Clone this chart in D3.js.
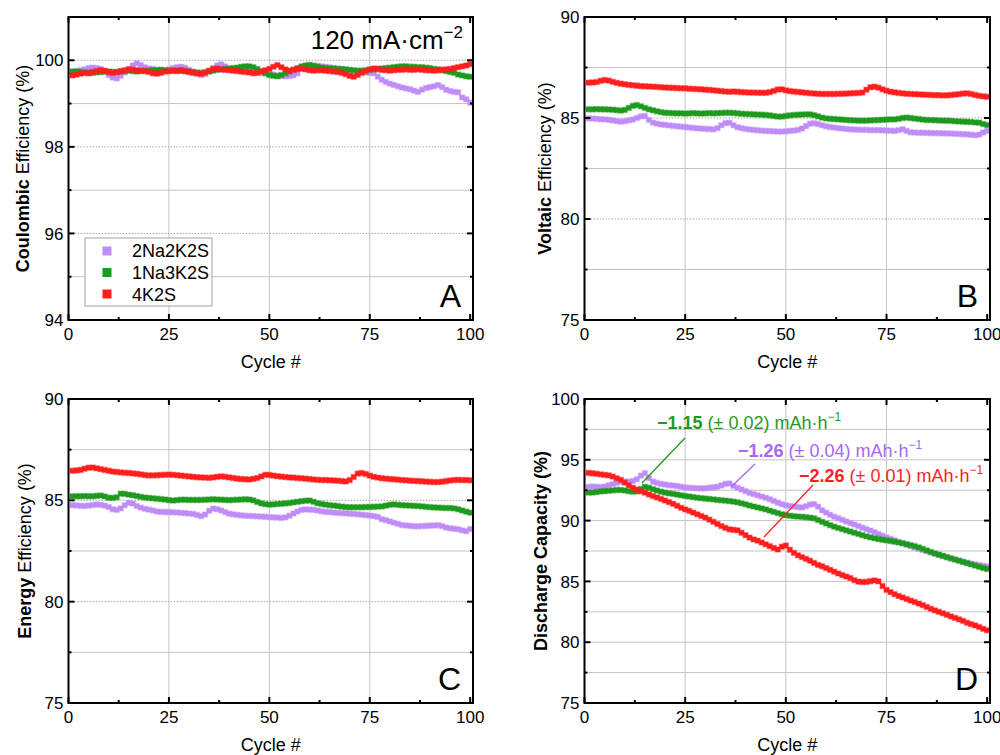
<!DOCTYPE html>
<html>
<head>
<meta charset="UTF-8" />
<script src="https://d3js.org/d3.v7.min.js"></script>
<style>
  body { margin: 0; background: #fff; }
  text { font-family: "Liberation Sans", Arial, sans-serif; }
</style>
</head>
<body>
<svg id="svg"></svg>
<script>
// cycle numbers
var cycles = d3.range(1, 101);

var seriesNames = ["2Na2K2S", "1Na3K2S", "4K2S"];
var seriesColors = ["#c08cf8", "#1e9a1e", "#ff1e1e"];
var textColors = ["#a966f2", "#1e9a1e", "#ff1e1e"];

// Coulombic efficiency (%)
var ce_2Na2K2S = [99.74,99.75,99.77,99.79,99.82,99.83,99.82,99.80,99.74,99.66,99.60,99.58,99.64,99.72,99.80,99.88,99.93,99.89,99.84,99.81,
  99.80,99.78,99.77,99.77,99.79,99.82,99.84,99.85,99.83,99.78,99.73,99.69,99.66,99.68,99.74,99.82,99.88,99.91,99.86,99.81,
  99.79,99.77,99.76,99.75,99.74,99.73,99.72,99.71,99.70,99.68,99.67,99.65,99.64,99.63,99.64,99.65,99.70,99.80,99.87,99.89,
  99.88,99.87,99.86,99.85,99.84,99.82,99.80,99.79,99.77,99.76,99.75,99.73,99.73,99.72,99.71,99.70,99.62,99.55,99.50,99.46,
  99.43,99.40,99.37,99.35,99.33,99.30,99.27,99.32,99.36,99.38,99.40,99.43,99.38,99.32,99.29,99.27,99.26,99.14,99.10,99.02];
var ce_1Na3K2S = [99.74,99.74,99.73,99.72,99.71,99.71,99.72,99.73,99.74,99.74,99.73,99.73,99.74,99.75,99.76,99.75,99.74,99.75,99.76,99.76,
  99.77,99.77,99.78,99.77,99.76,99.76,99.75,99.76,99.75,99.74,99.73,99.72,99.71,99.72,99.74,99.76,99.78,99.79,99.80,99.81,
  99.82,99.83,99.85,99.86,99.86,99.84,99.80,99.75,99.70,99.66,99.64,99.63,99.66,99.70,99.74,99.78,99.82,99.86,99.88,99.89,
  99.87,99.85,99.83,99.82,99.81,99.81,99.80,99.80,99.79,99.78,99.77,99.76,99.76,99.77,99.78,99.79,99.80,99.81,99.82,99.83,
  99.84,99.85,99.86,99.86,99.85,99.85,99.84,99.84,99.83,99.82,99.80,99.79,99.77,99.75,99.73,99.71,99.67,99.65,99.63,99.62];
var ce_4K2S = [99.65,99.67,99.69,99.71,99.70,99.73,99.75,99.77,99.76,99.73,99.71,99.72,99.75,99.77,99.79,99.78,99.77,99.76,99.75,99.73,
  99.70,99.69,99.71,99.74,99.75,99.76,99.76,99.77,99.75,99.73,99.71,99.70,99.69,99.72,99.76,99.80,99.81,99.79,99.78,99.77,
  99.76,99.75,99.74,99.73,99.72,99.70,99.71,99.74,99.77,99.80,99.85,99.89,99.84,99.79,99.76,99.78,99.80,99.81,99.79,99.77,
  99.76,99.77,99.77,99.76,99.75,99.74,99.73,99.71,99.68,99.64,99.62,99.66,99.71,99.75,99.79,99.81,99.80,99.78,99.77,99.76,
  99.77,99.78,99.78,99.79,99.78,99.78,99.79,99.78,99.77,99.77,99.76,99.77,99.78,99.79,99.80,99.82,99.84,99.86,99.88,99.91];

// Voltaic efficiency (%)
var ve_2Na2K2S = [84.98,84.97,84.96,84.94,84.93,84.91,84.88,84.85,84.82,84.84,84.88,84.92,85.00,85.08,85.10,84.90,84.77,84.72,84.68,84.66,
  84.63,84.61,84.59,84.57,84.55,84.53,84.51,84.49,84.48,84.46,84.45,84.44,84.50,84.64,84.75,84.76,84.64,84.54,84.50,84.46,
  84.43,84.41,84.39,84.37,84.36,84.35,84.34,84.33,84.33,84.34,84.36,84.38,84.41,84.48,84.60,84.72,84.74,84.70,84.64,84.59,
  84.55,84.53,84.50,84.48,84.46,84.44,84.43,84.42,84.41,84.41,84.40,84.40,84.40,84.39,84.38,84.37,84.36,84.40,84.44,84.36,
  84.29,84.28,84.27,84.27,84.26,84.26,84.25,84.25,84.24,84.24,84.23,84.22,84.21,84.20,84.19,84.17,84.15,84.18,84.28,84.36];
var ve_1Na3K2S = [85.43,85.43,85.44,85.43,85.43,85.42,85.41,85.39,85.37,85.40,85.50,85.60,85.64,85.58,85.50,85.43,85.38,85.33,85.29,85.26,
  85.25,85.24,85.23,85.23,85.22,85.23,85.24,85.23,85.22,85.23,85.24,85.23,85.24,85.25,85.26,85.26,85.25,85.23,85.21,85.20,
  85.19,85.18,85.17,85.16,85.15,85.13,85.10,85.07,85.07,85.10,85.13,85.15,85.16,85.17,85.18,85.18,85.14,85.08,85.02,84.98,
  84.96,84.95,84.93,84.92,84.90,84.89,84.88,84.87,84.87,84.87,84.88,84.89,84.90,84.91,84.92,84.93,84.93,84.96,85.00,85.02,
  85.00,84.97,84.95,84.92,84.90,84.90,84.89,84.88,84.87,84.87,84.86,84.84,84.83,84.82,84.81,84.80,84.78,84.77,84.70,84.65];
var ve_4K2S = [86.75,86.76,86.78,86.84,86.88,86.85,86.79,86.74,86.70,86.67,86.64,86.62,86.60,86.58,86.57,86.56,86.55,86.54,86.52,86.51,
  86.50,86.49,86.48,86.47,86.47,86.45,86.44,86.43,86.42,86.40,86.39,86.37,86.35,86.33,86.31,86.30,86.31,86.30,86.28,86.27,
  86.26,86.26,86.25,86.25,86.25,86.28,86.34,86.41,86.42,86.37,86.33,86.31,86.29,86.27,86.25,86.23,86.21,86.20,86.19,86.19,
  86.19,86.19,86.20,86.20,86.21,86.22,86.23,86.24,86.26,86.40,86.52,86.55,86.50,86.42,86.35,86.30,86.27,86.24,86.22,86.20,
  86.19,86.18,86.17,86.16,86.15,86.14,86.13,86.13,86.12,86.12,86.14,86.16,86.18,86.21,86.22,86.19,86.14,86.10,86.07,86.05];

// Energy efficiency (%)
var ee_2Na2K2S = [84.76,84.75,84.73,84.72,84.74,84.77,84.79,84.78,84.74,84.67,84.56,84.53,84.60,84.76,84.88,84.84,84.72,84.64,84.58,84.54,
  84.50,84.45,84.43,84.42,84.42,84.41,84.40,84.38,84.37,84.35,84.33,84.28,84.22,84.30,84.48,84.59,84.56,84.50,84.42,84.34,
  84.31,84.28,84.26,84.24,84.23,84.22,84.21,84.20,84.19,84.17,84.16,84.15,84.13,84.16,84.24,84.35,84.45,84.53,84.55,84.54,
  84.53,84.50,84.46,84.43,84.42,84.40,84.38,84.37,84.36,84.34,84.33,84.31,84.29,84.27,84.25,84.22,84.18,84.07,84.02,83.96,
  83.90,83.84,83.78,83.76,83.74,83.72,83.72,83.73,83.74,83.75,83.76,83.77,83.73,83.66,83.62,83.60,83.57,83.52,83.48,83.58];
var ee_1Na3K2S = [85.20,85.20,85.20,85.21,85.20,85.20,85.22,85.24,85.19,85.13,85.12,85.15,85.33,85.32,85.28,85.25,85.21,85.17,85.14,85.12,
  85.10,85.08,85.06,85.04,85.01,84.99,85.01,85.03,85.03,85.02,85.02,85.02,85.02,85.03,85.04,85.05,85.04,85.03,85.02,85.01,
  85.02,85.03,85.04,85.05,85.04,85.00,84.92,84.85,84.81,84.79,84.80,84.82,84.83,84.85,84.87,84.90,84.93,84.96,84.98,84.99,
  84.93,84.86,84.82,84.79,84.76,84.74,84.72,84.69,84.67,84.66,84.66,84.66,84.66,84.67,84.67,84.68,84.69,84.70,84.74,84.78,
  84.80,84.78,84.76,84.75,84.74,84.73,84.72,84.70,84.68,84.66,84.65,84.64,84.63,84.62,84.62,84.60,84.56,84.50,84.44,84.39];
var ee_4K2S = [86.46,86.48,86.50,86.56,86.61,86.62,86.58,86.54,86.50,86.46,86.42,86.40,86.38,86.36,86.35,86.33,86.31,86.28,86.25,86.23,
  86.23,86.24,86.25,86.26,86.27,86.26,86.24,86.22,86.20,86.18,86.16,86.14,86.13,86.12,86.11,86.13,86.16,86.18,86.16,86.13,
  86.10,86.07,86.05,86.04,86.03,86.06,86.10,86.18,86.26,86.25,86.22,86.19,86.17,86.15,86.13,86.12,86.10,86.09,86.07,86.05,
  86.03,86.01,86.00,86.00,85.99,85.98,85.97,85.95,85.93,86.00,86.15,86.32,86.35,86.30,86.22,86.16,86.12,86.09,86.07,86.05,
  86.04,86.02,86.00,85.99,85.97,85.96,85.95,85.94,85.92,85.91,85.90,85.90,85.92,85.95,85.98,86.00,86.01,86.00,86.00,85.99];

// Discharge capacity (%)
var dc_2Na2K2S = [92.78,92.80,92.78,92.76,92.80,92.90,93.00,93.10,93.20,93.22,93.20,93.25,93.40,93.70,93.90,93.50,93.20,93.10,93.02,92.96,
  92.92,92.88,92.84,92.78,92.73,92.70,92.68,92.66,92.65,92.66,92.70,92.74,92.78,92.90,93.02,93.06,92.85,92.70,92.56,92.42,
  92.28,92.18,92.08,91.98,91.88,91.76,91.62,91.48,91.35,91.26,91.20,91.15,91.11,91.08,91.18,91.32,91.36,91.15,90.85,90.66,
  90.48,90.32,90.20,90.06,89.92,89.80,89.68,89.55,89.42,89.30,89.18,89.05,88.90,88.75,88.62,88.50,88.38,88.24,88.12,88.02,
  87.90,87.78,87.68,87.58,87.48,87.38,87.28,87.18,87.08,86.98,86.88,86.80,86.72,86.62,86.54,86.46,86.40,86.34,86.28,86.24];
var dc_1Na3K2S = [92.30,92.31,92.35,92.40,92.42,92.45,92.48,92.52,92.52,92.48,92.42,92.38,92.40,92.60,92.78,92.70,92.58,92.48,92.38,92.30,
  92.24,92.20,92.14,92.08,92.02,91.98,91.93,91.88,91.84,91.81,91.78,91.74,91.70,91.67,91.64,91.60,91.56,91.50,91.42,91.34,
  91.24,91.16,91.08,91.00,90.92,90.82,90.72,90.62,90.52,90.45,90.40,90.36,90.33,90.31,90.28,90.24,90.19,90.05,89.90,89.76,
  89.62,89.50,89.40,89.30,89.20,89.10,89.00,88.90,88.80,88.70,88.62,88.55,88.48,88.42,88.38,88.32,88.26,88.20,88.14,88.06,
  87.98,87.90,87.80,87.68,87.55,87.42,87.30,87.20,87.10,87.00,86.90,86.80,86.70,86.60,86.50,86.40,86.30,86.20,86.10,86.02];
var dc_4K2S = [93.92,93.89,93.85,93.80,93.76,93.72,93.62,93.48,93.35,93.12,92.90,92.70,92.55,92.42,92.30,92.15,92.02,91.90,91.78,91.65,
  91.52,91.38,91.22,91.05,90.92,90.80,90.66,90.52,90.38,90.25,90.08,89.90,89.72,89.55,89.40,89.28,89.24,89.20,89.00,88.80,
  88.60,88.45,88.35,88.20,88.05,87.90,87.75,87.62,87.85,87.95,87.60,87.35,87.15,87.00,86.85,86.70,86.52,86.35,86.25,86.10,
  85.95,85.80,85.65,85.52,85.40,85.28,85.10,84.98,84.95,84.96,85.02,85.08,85.00,84.62,84.30,84.12,83.95,83.80,83.68,83.55,
  83.42,83.30,83.18,83.05,82.90,82.75,82.62,82.50,82.38,82.25,82.12,82.00,81.88,81.75,81.60,81.48,81.38,81.25,81.10,80.98];

// tick values
var xTicks = [0, 25, 50, 75, 100];
var xMinor = [12.5, 37.5, 62.5, 87.5];
var ceTicks = [94, 96, 98, 100], ceMinor = [95, 97, 99];
var effTicks = [75, 80, 85, 90], effMinor = [77.5, 82.5, 87.5];
var dcTicks = [75, 80, 85, 90, 95, 100], dcMinor = [77.5, 82.5, 87.5, 92.5, 97.5];

// fitted slopes shown in panel D
var slopeValues = ["\u22121.26", "\u22121.15", "\u22122.26"];
var slopeErrors = ["0.04", "0.02", "0.01"];

var width = 1000, height = 755;
var svg = d3.select("#svg").attr("width", width).attr("height", height);

var panels = [
  { x0: 68.5, x1: 473, y0: 17, y1: 320, domain: [94, 101], ticks: ceTicks, minor: ceMinor,
    dottedMajor: true, bold: "Coulombic", rest: " Efficiency (%)", titleX: 23, letter: "A",
    data: [ce_2Na2K2S, ce_1Na3K2S, ce_4K2S] },
  { x0: 584.5, x1: 990, y0: 17, y1: 320, domain: [75, 90], ticks: effTicks, minor: effMinor,
    dottedMajor: true, bold: "Voltaic", rest: " Efficiency (%)", titleX: 545, letter: "B",
    data: [ve_2Na2K2S, ve_1Na3K2S, ve_4K2S] },
  { x0: 68.5, x1: 473, y0: 399, y1: 703, domain: [75, 90], ticks: effTicks, minor: effMinor,
    dottedMajor: true, bold: "Energy", rest: " Efficiency (%)", titleX: 25, letter: "C",
    data: [ee_2Na2K2S, ee_1Na3K2S, ee_4K2S] },
  { x0: 584.5, x1: 990, y0: 399, y1: 703, domain: [75, 100], ticks: dcTicks, minor: dcMinor,
    dottedMajor: false, bold: "Discharge Capacity (%)", rest: "", titleX: 541, letter: "D",
    data: [dc_2Na2K2S, dc_1Na3K2S, dc_4K2S] }
];

function drawPanel(p) {
  var x = d3.scaleLinear().domain([0, 100.7]).range([p.x0, p.x1]);
  var y = d3.scaleLinear().domain(p.domain).range([p.y1, p.y0]);
  var g = svg.append("g");

  // grid
  g.selectAll(".vg").data([25, 50, 75]).enter().append("line")
    .attr("x1", d => x(d)).attr("x2", d => x(d))
    .attr("y1", p.y0).attr("y2", p.y1)
    .attr("stroke", "#c4c4c4").attr("stroke-width", 1);
  g.selectAll(".hm").data(p.minor).enter().append("line")
    .attr("x1", p.x0).attr("x2", p.x1)
    .attr("y1", d => y(d)).attr("y2", d => y(d))
    .attr("stroke", "#c4c4c4").attr("stroke-width", 1);
  g.selectAll(".hM").data(p.ticks.filter(d => d > p.domain[0] && d < p.domain[1])).enter().append("line")
    .attr("x1", p.x0).attr("x2", p.x1)
    .attr("y1", d => y(d)).attr("y2", d => y(d))
    .attr("stroke", p.dottedMajor ? "#a8a8a8" : "#c4c4c4")
    .attr("stroke-width", 1)
    .attr("stroke-dasharray", p.dottedMajor ? "1.5,1.5" : null);

  // series
  var line = d3.line().x((d, i) => x(cycles[i])).y(d => y(d));
  p.data.forEach(function (vals, si) {
    var c = seriesColors[si];
    g.append("path").datum(vals)
      .attr("d", line).attr("fill", "none")
      .attr("stroke", c).attr("stroke-width", 1.2);
    g.selectAll(".m" + si).data(vals).enter().append("rect")
      .attr("x", (d, i) => x(cycles[i]) - 2.5)
      .attr("y", d => y(d) - 2.5)
      .attr("width", 5).attr("height", 5)
      .attr("fill", c)
      .attr("stroke", c).attr("stroke-opacity", 0.35).attr("stroke-width", 1.5);
  });

  // frame
  g.append("rect").attr("x", p.x0).attr("y", p.y0)
    .attr("width", p.x1 - p.x0).attr("height", p.y1 - p.y0)
    .attr("fill", "none").attr("stroke", "#000").attr("stroke-width", 2);

  // inward ticks on all four sides
  var tk = g.append("g").attr("stroke", "#000").attr("stroke-width", 2);
  function yTick(v, len) {
    tk.append("line").attr("x1", p.x0).attr("x2", p.x0 + len).attr("y1", y(v)).attr("y2", y(v));
    tk.append("line").attr("x1", p.x1).attr("x2", p.x1 - len).attr("y1", y(v)).attr("y2", y(v));
  }
  function xTick(v, len) {
    tk.append("line").attr("y1", p.y1).attr("y2", p.y1 - len).attr("x1", x(v)).attr("x2", x(v));
    tk.append("line").attr("y1", p.y0).attr("y2", p.y0 + len).attr("x1", x(v)).attr("x2", x(v));
  }
  p.ticks.forEach(v => yTick(v, 6));
  p.minor.forEach(v => yTick(v, 3));
  xTicks.forEach(v => xTick(v, 6));
  xMinor.forEach(v => xTick(v, 3));

  // tick labels
  g.selectAll(".yl").data(p.ticks).enter().append("text")
    .attr("x", p.x0 - 5).attr("y", d => y(d)).attr("dy", "0.36em")
    .attr("text-anchor", "end").attr("font-size", 17).text(d => d);
  g.selectAll(".xl").data(xTicks).enter().append("text")
    .attr("x", d => x(d)).attr("y", p.y1 + 20)
    .attr("text-anchor", "middle").attr("font-size", 17).text(d => d);

  // axis titles
  g.append("text").attr("x", (p.x0 + p.x1) / 2).attr("y", p.y1 + 48)
    .attr("text-anchor", "middle").attr("font-size", 18).text("Cycle #");
  var yt = g.append("text")
    .attr("transform", "translate(" + p.titleX + "," + (p.y0 + p.y1) / 2 + ") rotate(-90)")
    .attr("text-anchor", "middle").attr("dy", "0.36em").attr("font-size", 18);
  yt.append("tspan").attr("font-weight", "bold").text(p.bold);
  if (p.rest) yt.append("tspan").text(p.rest);

  // panel letter
  g.append("text").attr("x", p.x1 - 12).attr("y", p.y1 - 13)
    .attr("text-anchor", "end").attr("font-size", 32).text(p.letter);

  return { x: x, y: y };
}

var scales = panels.map(drawPanel);

// current density label
var cd = svg.append("text").attr("x", 463).attr("y", 49)
  .attr("text-anchor", "end").attr("font-size", 26);
cd.append("tspan").text("120 mA\u00b7cm");
cd.append("tspan").attr("font-size", 17).attr("dy", -11).text("\u22122");

// legend
var lg = svg.append("g");
lg.append("rect").attr("x", 85).attr("y", 238).attr("width", 127).attr("height", 68)
  .attr("fill", "#fff").attr("stroke", "#a0a0a0").attr("stroke-width", 1);
seriesNames.forEach(function (n, i) {
  lg.append("rect").attr("x", 102.5).attr("y", 246.5 + i * 21.5)
    .attr("width", 9).attr("height", 9).attr("fill", seriesColors[i]);
  lg.append("text").attr("x", 132).attr("y", 257 + i * 22)
    .attr("font-size", 18).text(n);
});

// slope annotations in panel D
var ann = [
  { tx: 738, ty: 457, lx1: 755, ly1: 464, lx2: 731, ly2: 487 },
  { tx: 657, ty: 429, lx1: 685, ly1: 438, lx2: 642, ly2: 483 },
  { tx: 799, ty: 482, lx1: 813, ly1: 485, lx2: 764, ly2: 537 }
];
ann.forEach(function (a, i) {
  svg.append("line").attr("x1", a.lx1).attr("y1", a.ly1).attr("x2", a.lx2).attr("y2", a.ly2)
    .attr("stroke", textColors[i]).attr("stroke-width", 1.3);
  var t = svg.append("text").attr("x", a.tx).attr("y", a.ty)
    .attr("font-size", 18).attr("fill", textColors[i]);
  t.append("tspan").attr("font-weight", "bold").text(slopeValues[i]);
  t.append("tspan").text(" (\u00b1 " + slopeErrors[i] + ") mAh\u00b7h");
  t.append("tspan").attr("font-size", 12).attr("dy", -8).text("\u22121");
});
</script>
</body>
</html>
